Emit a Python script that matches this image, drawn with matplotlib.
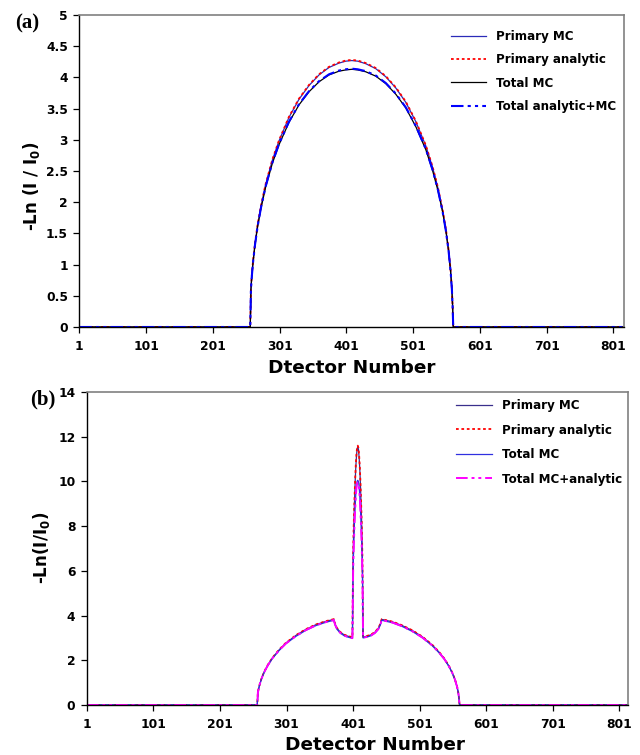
import matplotlib
matplotlib.use('Agg')
import matplotlib.pyplot as plt
from matplotlib.ticker import FormatStrFormatter

plt.rcParams['font.family'] = ['DejaVu Sans']
plt.rcParams['font.weight'] = 'bold'
plt.rcParams['mathtext.default'] = 'bf'

# ─── Panel (a) data ───────────────────────────────────────────────────────────
det_a = [1, 257, 258, 259, 261, 264, 268, 273, 280, 290,
         300, 315, 330, 345, 360, 375, 390, 400, 409, 418,
         430, 445, 460, 475, 490, 505, 520, 530, 538, 545,
         550, 554, 557, 559, 560, 561, 815]
primary_mc_a = [0, 0, 0.60, 0.77, 1.03, 1.32, 1.63, 1.93, 2.28, 2.67,
                2.98, 3.36, 3.65, 3.87, 4.04, 4.16, 4.23, 4.26, 4.27, 4.26,
                4.22, 4.14, 4.01, 3.83, 3.60, 3.29, 2.90, 2.56, 2.23, 1.87,
                1.56, 1.23, 0.91, 0.60, 0.35, 0, 0]
primary_an_a = [0, 0, 0.61, 0.78, 1.04, 1.33, 1.64, 1.94, 2.29, 2.68,
                2.99, 3.37, 3.66, 3.88, 4.05, 4.17, 4.24, 4.27, 4.28, 4.27,
                4.23, 4.15, 4.02, 3.84, 3.61, 3.30, 2.91, 2.57, 2.24, 1.88,
                1.57, 1.24, 0.92, 0.61, 0.35, 0, 0]
total_mc_a = [0, 0, 0.60, 0.77, 1.02, 1.31, 1.61, 1.90, 2.24, 2.62,
              2.92, 3.28, 3.56, 3.77, 3.93, 4.04, 4.10, 4.12, 4.13, 4.12,
              4.09, 4.02, 3.90, 3.73, 3.51, 3.21, 2.84, 2.51, 2.19, 1.85,
              1.54, 1.22, 0.90, 0.60, 0.35, 0, 0]
total_an_a = [0, 0, 0.60, 0.77, 1.02, 1.31, 1.61, 1.91, 2.25, 2.63,
              2.93, 3.29, 3.57, 3.78, 3.94, 4.05, 4.11, 4.13, 4.14, 4.13,
              4.10, 4.03, 3.91, 3.74, 3.52, 3.22, 2.85, 2.52, 2.20, 1.85,
              1.54, 1.22, 0.90, 0.60, 0.35, 0, 0]

# ─── Panel (b) data ───────────────────────────────────────────────────────────
det_b = [1, 257, 258, 259, 261, 264, 268, 273, 280, 290,
         300, 315, 330, 345, 360, 372, 374, 377, 382, 388,
         394, 400, 401, 402, 403, 404, 405, 406, 407, 408,
         409, 410, 411, 412, 413, 414, 415, 416, 422, 428,
         434, 439, 442, 444, 460, 475, 490, 505, 520, 530,
         538, 545, 550, 554, 557, 559, 560, 561, 815]
primary_mc_b = [0, 0, 0.56, 0.71, 0.95, 1.23, 1.51, 1.79, 2.11, 2.47,
                2.77, 3.11, 3.38, 3.59, 3.74, 3.83, 3.62, 3.42, 3.25, 3.13,
                3.07, 3.02, 6.5, 8.0, 9.0, 9.9, 10.6, 11.1, 11.45, 11.55,
                11.45, 11.1, 10.6, 9.9, 9.0, 8.0, 6.5, 3.04, 3.08, 3.14,
                3.26, 3.43, 3.63, 3.83, 3.72, 3.55, 3.33, 3.05, 2.68, 2.37,
                2.07, 1.74, 1.44, 1.14, 0.84, 0.56, 0.32, 0, 0]
primary_an_b = [0, 0, 0.57, 0.72, 0.96, 1.24, 1.52, 1.80, 2.12, 2.48,
                2.78, 3.12, 3.39, 3.60, 3.75, 3.84, 3.63, 3.43, 3.26, 3.14,
                3.08, 3.03, 6.6, 8.1, 9.1, 10.0, 10.7, 11.2, 11.5, 11.6,
                11.5, 11.2, 10.7, 10.0, 9.1, 8.1, 6.6, 3.05, 3.09, 3.15,
                3.27, 3.44, 3.64, 3.84, 3.73, 3.56, 3.34, 3.06, 2.69, 2.38,
                2.08, 1.75, 1.45, 1.15, 0.85, 0.57, 0.32, 0, 0]
total_mc_b = [0, 0, 0.56, 0.71, 0.94, 1.22, 1.50, 1.77, 2.09, 2.44,
              2.74, 3.07, 3.34, 3.55, 3.70, 3.79, 3.58, 3.38, 3.21, 3.09,
              3.03, 2.98, 6.0, 7.2, 8.1, 8.8, 9.4, 9.8, 10.0, 10.05,
              10.0, 9.8, 9.4, 8.8, 8.1, 7.2, 6.0, 3.00, 3.04, 3.10,
              3.22, 3.39, 3.59, 3.79, 3.68, 3.51, 3.29, 3.01, 2.65, 2.34,
              2.05, 1.72, 1.43, 1.13, 0.83, 0.55, 0.32, 0, 0]
total_an_b = [0, 0, 0.56, 0.71, 0.95, 1.22, 1.50, 1.78, 2.10, 2.45,
              2.75, 3.08, 3.35, 3.56, 3.71, 3.80, 3.59, 3.39, 3.22, 3.10,
              3.04, 2.99, 5.9, 7.1, 8.0, 8.7, 9.3, 9.7, 9.9, 9.95,
              9.9, 9.7, 9.3, 8.7, 8.0, 7.1, 5.9, 3.01, 3.05, 3.11,
              3.23, 3.40, 3.60, 3.80, 3.69, 3.52, 3.30, 3.02, 2.66, 2.35,
              2.06, 1.73, 1.44, 1.14, 0.84, 0.56, 0.32, 0, 0]

x_ticks = [1, 101, 201, 301, 401, 501, 601, 701, 801]
W, H = 640, 755

fig = plt.figure(figsize=(W / 100, H / 100), dpi=100)


def frac(left, top, right, bottom):
    return [left / W, 1 - bottom / H, (right - left) / W, (bottom - top) / H]


def style_axes(ax):
    for side in ('top', 'right'):
        ax.spines[side].set_color('#808080')
        ax.spines[side].set_linewidth(1.2)
    for side in ('left', 'bottom'):
        ax.spines[side].set_color('black')
        ax.spines[side].set_linewidth(1.0)
    ax.set_xticks(x_ticks)
    ax.tick_params(direction='out', length=4, width=0.9, labelsize=8.8)
    ax.tick_params(axis='x', pad=5)
    ax.tick_params(axis='y', pad=4)
    plt.setp(ax.get_xticklabels() + ax.get_yticklabels(), fontweight='heavy')


leg_kw = dict(loc='upper left', frameon=False, borderpad=0, borderaxespad=0,
              handlelength=2.95, handletextpad=0.85,
              prop={'weight': 'bold', 'size': 8.6})

# ─── (a) ─────────────────────────────────────────────────────────────────────
ax1 = fig.add_axes(frac(79, 15, 623.5, 327))
ax1.plot(det_a, primary_mc_a, color='#2b2bb8', lw=0.9, label='Primary MC')
ax1.plot(det_a, primary_an_a, color='red', lw=1.3, ls=(0, (1.5, 1.5)),
         label='Primary analytic')
ax1.plot(det_a, total_mc_a, color='black', lw=0.9, label='Total MC')
ax1.plot(det_a, total_an_a, color='#0000ff', lw=1.5,
         dashes=(6, 2, 1.5, 2, 1.5, 2), label='Total analytic+MC')
ax1.set_xlim(0.5, 816)
ax1.set_ylim(0, 5)
ax1.set_yticks([0, 0.5, 1, 1.5, 2, 2.5, 3, 3.5, 4, 4.5, 5])
ax1.yaxis.set_major_formatter(FormatStrFormatter('%g'))
style_axes(ax1)
ax1.legend(bbox_to_anchor=(0.683, 0.952), labelspacing=0.86, **leg_kw)

# ─── (b) ─────────────────────────────────────────────────────────────────────
ax2 = fig.add_axes(frac(86.5, 392, 628, 705))
ax2.plot(det_b, primary_mc_b, color='#3a2f8c', lw=0.9, label='Primary MC')
ax2.plot(det_b, primary_an_b, color='red', lw=1.3, ls=(0, (1.5, 1.5)),
         label='Primary analytic')
ax2.plot(det_b, total_mc_b, color='#3030e0', lw=0.9, label='Total MC')
ax2.plot(det_b, total_an_b, color='#ff00ff', lw=1.4,
         dashes=(6, 2, 1.5, 2, 1.5, 2), label='Total MC+analytic')
ax2.set_xlim(0.5, 814)
ax2.set_ylim(0, 14)
ax2.set_yticks([0, 2, 4, 6, 8, 10, 12, 14])
style_axes(ax2)
ax2.legend(bbox_to_anchor=(0.683, 0.977), labelspacing=0.96, **leg_kw)

# ─── Labels ──────────────────────────────────────────────────────────────────
fig.text(352 / W, 1 - 368 / H, 'Dtector Number', ha='center', va='center',
         fontsize=13.3, fontweight='bold')
fig.text(375 / W, 1 - 745 / H, 'Detector Number', ha='center', va='center',
         fontsize=13.3, fontweight='bold')
fig.text(31 / W, 1 - 186 / H, r'-Ln (I / I$_0$)', ha='center',
         va='center', rotation=90, fontsize=12, fontweight='bold')
fig.text(42 / W, 1 - 548 / H, r'-Ln(I/I$_0$)', ha='center',
         va='center', rotation=90, fontsize=12, fontweight='bold')
fig.text(27 / W, 1 - 23 / H, '(a)', ha='center', va='center', fontsize=15,
         fontweight='bold', family='Liberation Serif')
fig.text(43 / W, 1 - 399 / H, '(b)', ha='center', va='center', fontsize=15,
         fontweight='bold', family='Liberation Serif')

fig.savefig('out.png', dpi=100)
